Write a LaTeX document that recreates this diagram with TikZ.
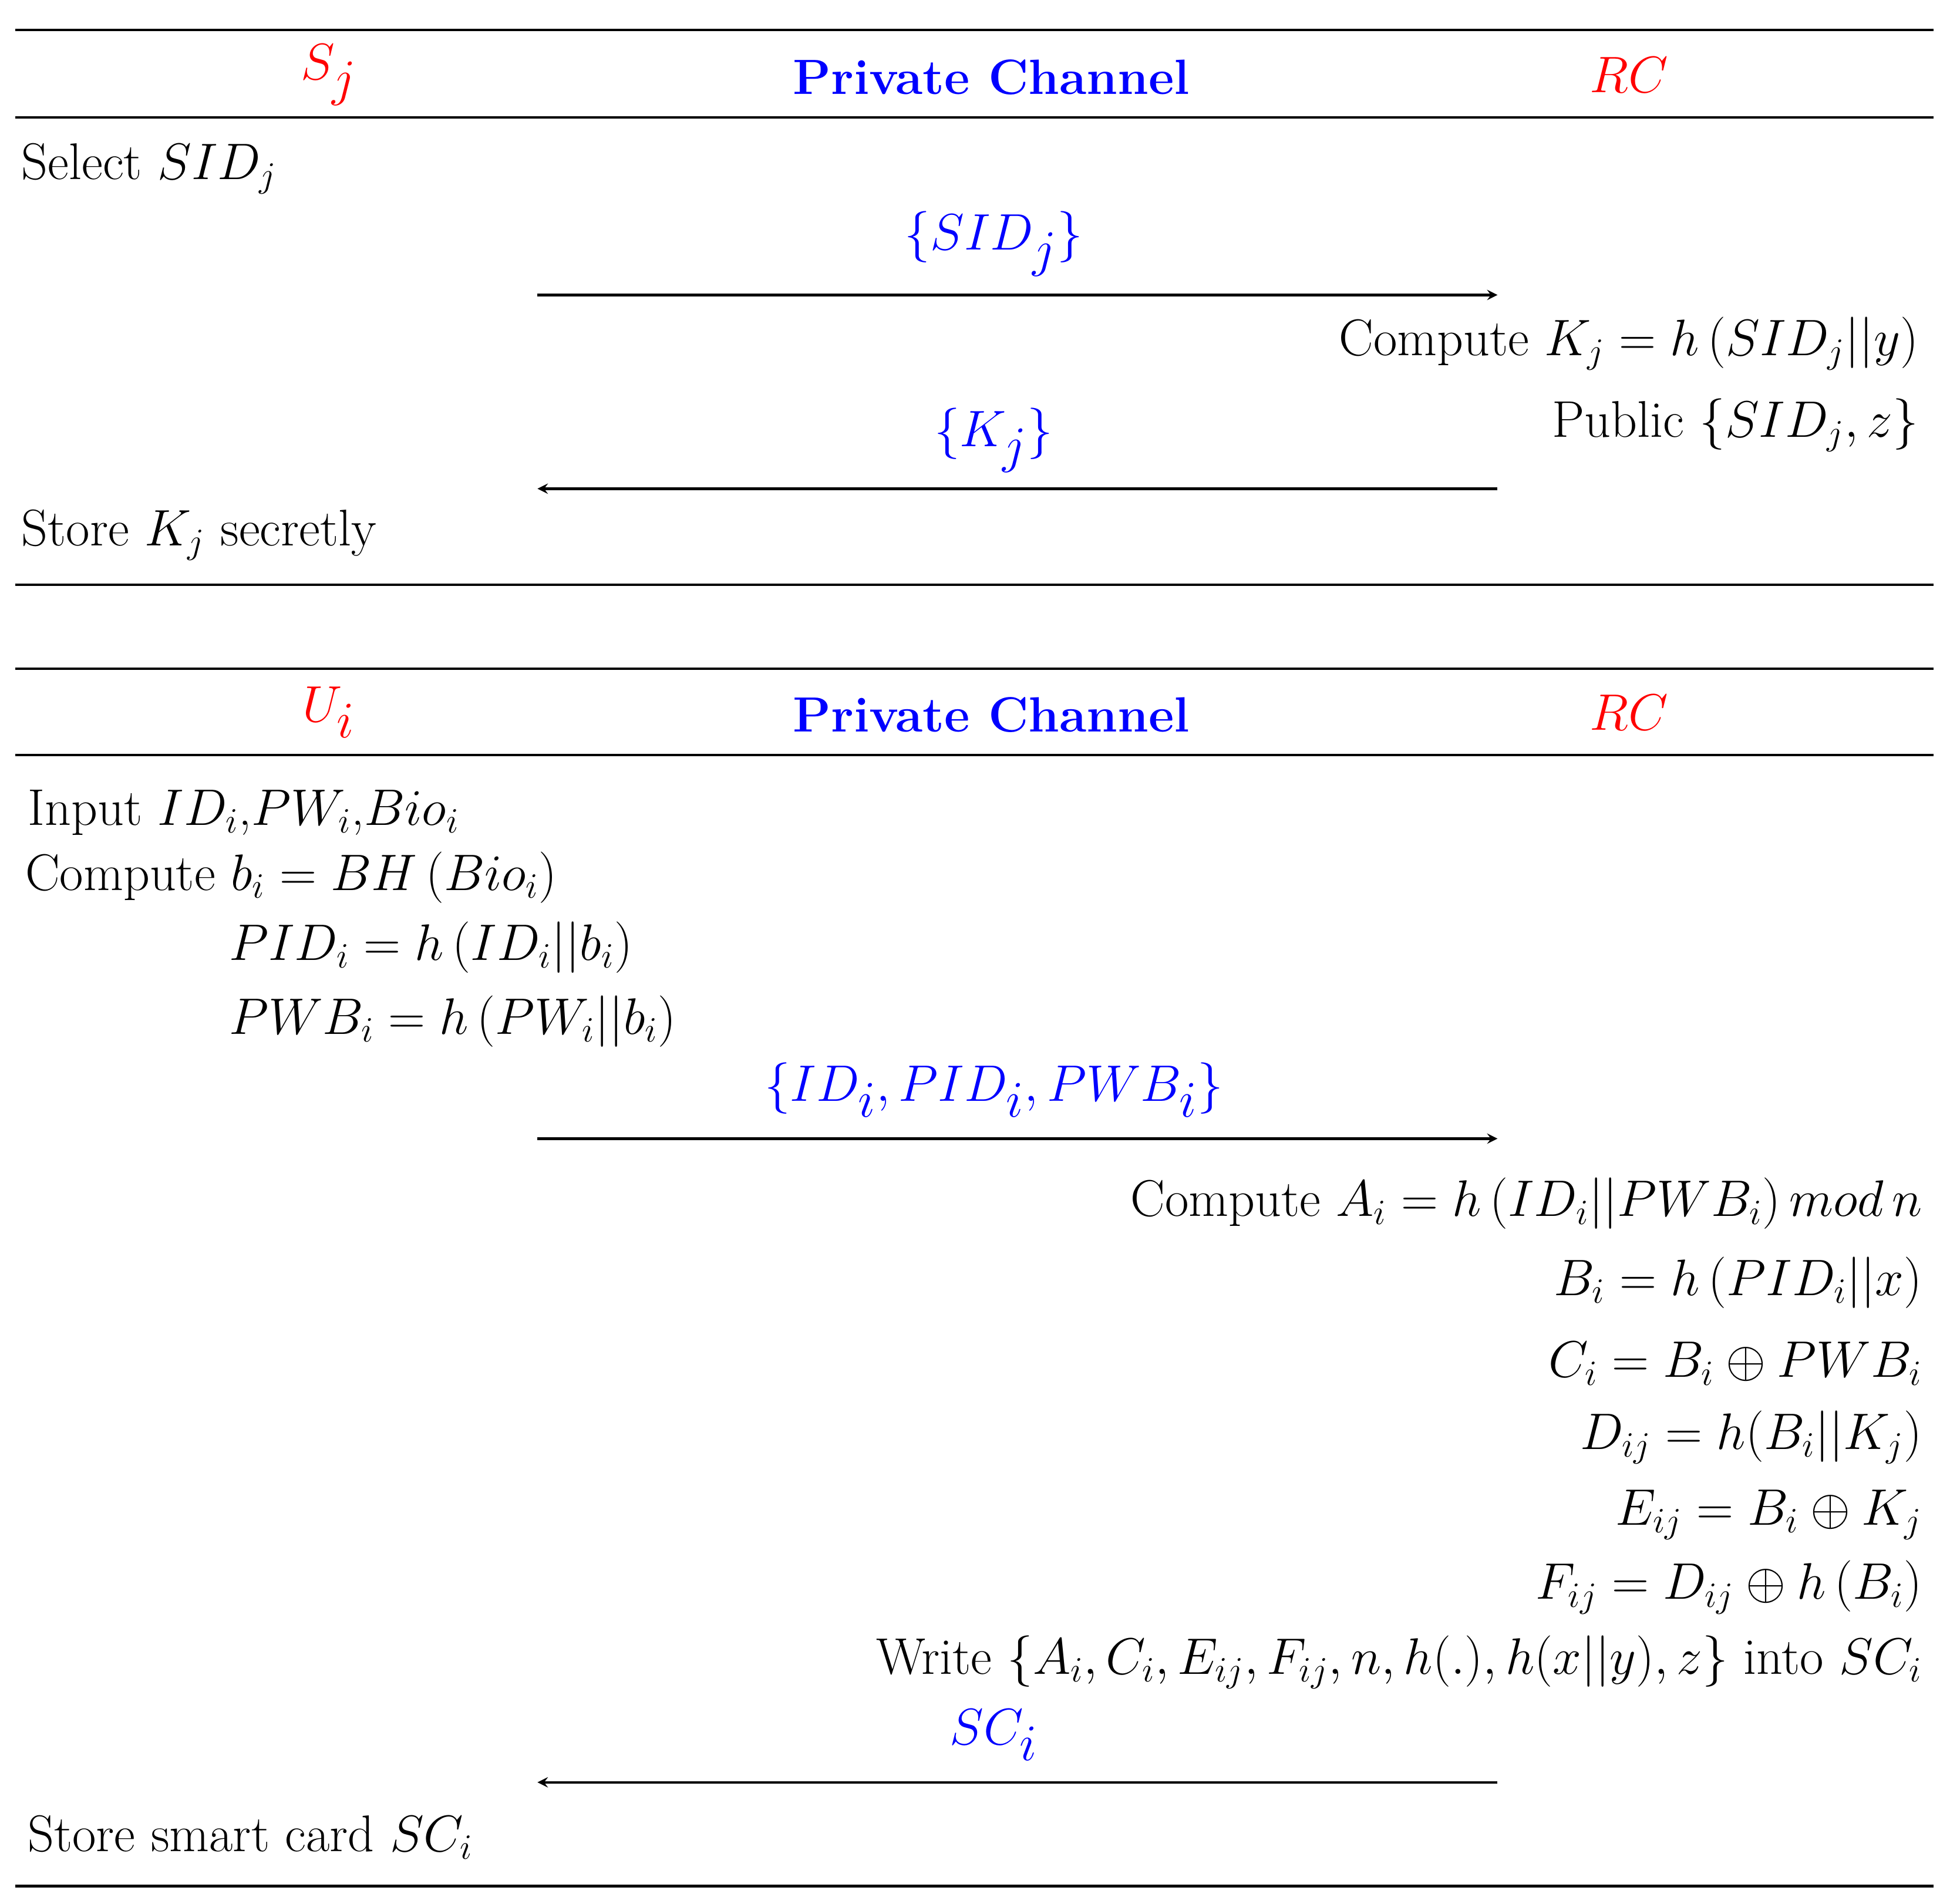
\documentclass[tikz,border=0pt]{standalone}
\usepackage{amsmath,amssymb}
\begin{document}
\begin{tikzpicture}[x=0.02129cm,y=-0.02129cm,
  txt/.style={inner sep=0pt,font=\fontsize{25}{29}\selectfont},
  hdr/.style={inner sep=0pt,font=\fontsize{38}{42}\selectfont},
  pch/.style={inner sep=0pt,text=blue,font=\fontsize{24}{28}\selectfont\bfseries},
  msg/.style={inner sep=0pt,text=blue,font=\fontsize{40}{44}\selectfont},
  rule/.style={line width=1.2pt},
  arr/.style={-stealth,line width=1.2pt}]
\useasboundingbox (0,0) rectangle (1560,1523);
% block 1
\draw[rule] (12,24) -- (1547,24);
\node[hdr,text=red] (s) at (263,60) {$S_j$};
\node[pch] (pc1) at (793,62) {Private Channel};
\node[hdr,text=red] (rc1) at (1303,60) {$RC$};
\draw[rule] (12,94) -- (1547,94);
\node[txt,anchor=west] (t1) at (17,135) {Select $SID_j$};
\node[msg] (m1) at (795,195) {$\{SID_j\}$};
\coordinate (a1s) at (430,236); \coordinate (a1e) at (1198,236);
\draw[arr] (a1s) -- (a1e);
\node[txt,anchor=east] (t2) at (1535,275) {Compute $K_j=h\left(SID_j||y\right)$};
\node[txt,anchor=east] (t3) at (1535,340) {Public $\{SID_j,z\}$};
\node[msg] (m2) at (795,352) {$\{K_j\}$};
\coordinate (a2s) at (1198,391); \coordinate (a2e) at (430,391);
\draw[arr] (a2s) -- (a2e);
\node[txt,anchor=west] (t4) at (17,428) {Store $K_j$ secretly};
\draw[rule] (12,468) -- (1547,468);
% block 2
\draw[rule] (12,535) -- (1547,535);
\node[hdr,text=red] (u) at (263,570) {$U_i$};
\node[pch] (pc2) at (793,572) {Private Channel};
\node[hdr,text=red] (rc2) at (1303,570) {$RC$};
\draw[rule] (12,604) -- (1547,604);
\node[txt,anchor=west] (u1) at (22,650) {Input $ID_i$,$PW_i$,$Bio_i$};
\node[txt,anchor=west] (u2) at (20,702) {Compute $b_i=BH\left(Bio_i\right)$};
\node[txt,anchor=west] (u3) at (183,758) {$PID_i=h\left(ID_i||b_i\right)$};
\node[txt,anchor=west] (u4) at (183,817) {$PWB_i=h\left(PW_i||b_i\right)$};
\node[msg] (m3) at (795,872) {$\{ID_i,PID_i,PWB_i\}$};
\coordinate (a3s) at (430,911); \coordinate (a3e) at (1198,911);
\draw[arr] (a3s) -- (a3e);
\node[txt,anchor=east] (r1) at (1538,963) {Compute $A_i=h\left(ID_i||PWB_i\right) mod\, n$};
\node[txt,anchor=east] (r2) at (1538,1026) {$B_i=h\left(PID_i||x\right)$};
\node[txt,anchor=east] (r3) at (1538,1091) {$C_i=B_i\oplus PWB_i$};
\node[txt,anchor=east] (r4) at (1538,1150) {$D_{ij}=h(B_i||K_j)$};
\node[txt,anchor=east] (r5) at (1538,1212) {$E_{ij}=B_i\oplus K_j$};
\node[txt,anchor=east] (r6) at (1538,1270) {$F_{ij}=D_{ij}\oplus h\left(B_i\right)$};
\node[txt,anchor=east] (r7) at (1538,1330) {Write $\{A_i,C_i,E_{ij},F_{ij},n,h(.),h(x||y),z\}$ into $SC_i$};
\node[msg] (m4) at (795,1388) {$SC_i$};
\coordinate (a4s) at (1198,1426); \coordinate (a4e) at (430,1426);
\draw[arr] (a4s) -- (a4e);
\node[txt,anchor=west] (u5) at (22,1470) {Store smart card $SC_i$};
\draw[rule] (12,1509) -- (1547,1509);
\end{tikzpicture}
\end{document}
